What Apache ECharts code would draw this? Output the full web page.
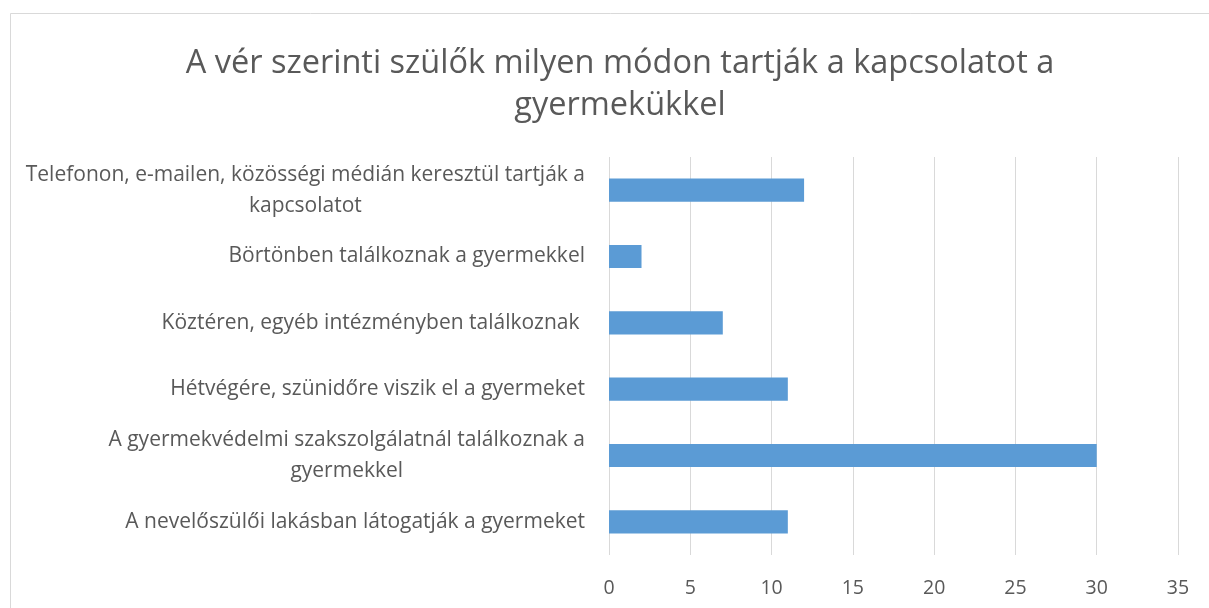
<!DOCTYPE html>
<html>
<head>
<meta charset="utf-8">
<script src="https://cdn.jsdelivr.net/npm/echarts@6/dist/echarts.min.js"></script>
<style>
html,body{margin:0;padding:0;background:#fff;}
#c{width:1209px;height:608px;}
</style>
</head>
<body>
<div id="c"></div>
<script>
const titleText = 'A vér szerinti szülők milyen módon tartják a kapcsolatot a\ngyermekükkel';
const categories = [
  'Telefonon, e-mailen, közösségi médián keresztül tartják a\nkapcsolatot',
  'Börtönben találkoznak a gyermekkel',
  'Köztéren, egyéb intézményben találkoznak ',
  'Hétvégére, szünidőre viszik el a gyermeket',
  'A gyermekvédelmi szakszolgálatnál találkoznak a\ngyermekkel',
  'A nevelőszülői lakásban látogatják a gyermeket'
];
const values = [12, 2, 7, 11, 30, 11];
const xMin = 0, xMax = 35, xInterval = 5;

const font = '"Open Sans", "DejaVu Sans", sans-serif';
const chart = echarts.init(document.getElementById('c'));
chart.setOption({
  backgroundColor: '#fff',
  animation: false,
  title: {
    text: titleText,
    left: 615,
    top: 38,
    textAlign: 'center',
    textStyle: { fontFamily: font, fontSize: 32.5, fontWeight: 'normal', color: '#595959', lineHeight: 42 }
  },
  graphic: [{
    type: 'rect',
    shape: { x: 10.5, y: 13.5, width: 1215, height: 620 },
    style: { fill: 'none', stroke: '#d9d9d9', lineWidth: 1 },
    silent: true
  }],
  grid: { left: 609, right: 31, top: 157, bottom: 53 },
  xAxis: {
    type: 'value', min: xMin, max: xMax, interval: xInterval,
    axisLine: { show: false }, axisTick: { show: false },
    splitLine: { show: true, lineStyle: { color: '#d9d9d9', width: 1 } },
    axisLabel: { color: '#595959', fontSize: 19.5, fontFamily: font, margin: 23 }
  },
  yAxis: {
    type: 'category', data: categories, inverse: true,
    axisLine: { show: false }, axisTick: { show: false },
    axisLabel: {
      color: '#595959', fontSize: 21, fontFamily: font, margin: 24, align: 'right',
      lineHeight: 31,
      formatter: v => v.split('\n').map(l => '{c|' + l + '}').join('\n'),
      rich: { c: { align: 'center', color: '#595959', fontSize: 21, fontFamily: font, lineHeight: 31 } }
    }
  },
  series: [{
    type: 'bar', data: values, barWidth: '35%',
    itemStyle: { color: '#5b9bd5' }
  }]
});
</script>
</body>
</html>
